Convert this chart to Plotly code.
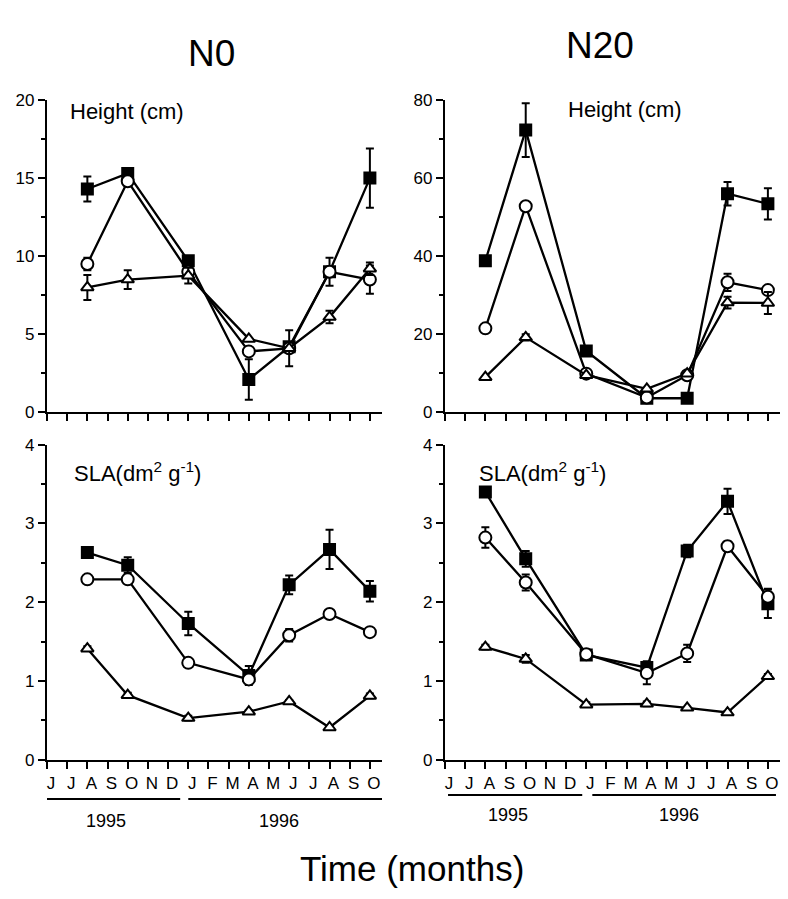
import plotly.graph_objects as go

# ---------------- data ----------------
months = ["J", "J", "A", "S", "O", "N", "D", "J", "F", "M", "A", "M", "J", "J", "A", "S", "O"]
month_pos = list(range(len(months)))          # Jun 1995 ... Oct 1996
sample_pos = [2, 4, 7, 10, 12, 14, 16]        # Aug95, Oct95, Jan96, Apr96, Jun96, Aug96, Oct96
years = ["1995", "1996"]

# Height (cm), N0
h_n0_sq = [14.3, 15.3, 9.7, 2.1, 4.2, 9.0, 15.0]
h_n0_sq_err = [0.8, 0.2, 0.3, 1.3, 0.0, 0.0, 1.9]
h_n0_ci = [9.5, 14.8, 9.0, 3.9, 4.1, 9.0, 8.5]
h_n0_ci_err = [0.4, 0.3, 0.0, 0.0, 0.0, 0.9, 0.9]
h_n0_tr = [8.0, 8.5, 8.75, 4.7, 4.1, 6.1, 9.2]
h_n0_tr_err = [0.8, 0.6, 0.5, 0.0, 1.15, 0.4, 0.4]

# Height (cm), N20
h_n20_sq = [38.8, 72.3, 15.7, 3.6, 3.6, 56.0, 53.4]
h_n20_sq_err = [0.0, 6.9, 0.0, 0.0, 0.0, 3.0, 4.0]
h_n20_ci = [21.5, 52.8, 9.9, 3.8, 9.5, 33.3, 31.3]
h_n20_ci_err = [0.0, 0.0, 0.0, 0.0, 0.0, 2.2, 0.0]
h_n20_tr = [9.0, 19.2, 9.5, 6.0, 9.9, 28.1, 28.0]
h_n20_tr_err = [0.0, 0.8, 0.0, 0.0, 0.0, 1.5, 2.8]

# SLA (dm2 g-1), N0
s_n0_sq = [2.63, 2.47, 1.73, 1.07, 2.22, 2.67, 2.14]
s_n0_sq_err = [0.0, 0.1, 0.15, 0.12, 0.12, 0.25, 0.13]
s_n0_ci = [2.29, 2.29, 1.23, 1.02, 1.58, 1.85, 1.62]
s_n0_ci_err = [0.0, 0.05, 0.0, 0.0, 0.08, 0.04, 0.0]
s_n0_tr = [1.41, 0.82, 0.53, 0.61, 0.74, 0.41, 0.81]
s_n0_tr_err = [0.03, 0.03, 0.03, 0.02, 0.02, 0.02, 0.03]

# SLA (dm2 g-1), N20
s_n20_sq = [3.40, 2.55, 1.33, 1.17, 2.65, 3.28, 1.98]
s_n20_sq_err = [0.03, 0.1, 0.0, 0.08, 0.08, 0.16, 0.18]
s_n20_ci = [2.82, 2.25, 1.34, 1.10, 1.35, 2.71, 2.07]
s_n20_ci_err = [0.13, 0.1, 0.0, 0.14, 0.11, 0.06, 0.1]
s_n20_tr = [1.43, 1.28, 0.70, 0.71, 0.66, 0.60, 1.06]
s_n20_tr_err = [0.03, 0.05, 0.03, 0.03, 0.0, 0.02, 0.03]

# ---------------- figure ----------------
W, H = 788, 899
FONT = "Liberation Sans, Arial, Helvetica, sans-serif"


def py(p):
    return 1 - p / H


fig = go.Figure()

panels = [
    ("x", "y", h_n0_sq, h_n0_sq_err, h_n0_ci, h_n0_ci_err, h_n0_tr, h_n0_tr_err),
    ("x2", "y2", h_n20_sq, h_n20_sq_err, h_n20_ci, h_n20_ci_err, h_n20_tr, h_n20_tr_err),
    ("x3", "y3", s_n0_sq, s_n0_sq_err, s_n0_ci, s_n0_ci_err, s_n0_tr, s_n0_tr_err),
    ("x4", "y4", s_n20_sq, s_n20_sq_err, s_n20_ci, s_n20_ci_err, s_n20_tr, s_n20_tr_err),
]

for xa, ya, sq, sqe, ci, cie, tr, tre in panels:
    for vals, errs, sym, fill, size in [
        (sq, sqe, "square", "black", 11),
        (ci, cie, "circle", "white", 12),
        (tr, tre, "triangle-up", "white", 11),
    ]:
        fig.add_trace(go.Scatter(
            x=sample_pos, y=vals, xaxis=xa, yaxis=ya,
            mode="lines+markers",
            line=dict(color="black", width=2.3),
            marker=dict(symbol=sym, size=size, color=fill,
                        line=dict(color="black", width=2)),
            error_y=dict(type="data", array=errs, visible=True,
                         color="black", thickness=2, width=4),
            cliponaxis=False, showlegend=False,
        ))

xdom_l = [47 / W, 382 / W]
xdom_r = [445 / W, 780 / W]
ydom_top = [py(412), py(93)]
ydom_bot = [py(767), py(445)]

xcommon = dict(range=[0, 16.6], tickvals=month_pos, ticks="outside", ticklen=7,
               tickwidth=2, tickcolor="black", showline=True, linecolor="black",
               linewidth=2.3, showgrid=False, zeroline=False,
               tickfont=dict(family=FONT, size=17, color="black"))
ycommon = dict(ticks="outside", ticklen=7, tickwidth=2, tickcolor="black",
               showline=True, linecolor="black", linewidth=2.3, showgrid=False,
               zeroline=False, tickfont=dict(family=FONT, size=17, color="black"))


def minor(vals):
    return dict(tickvals=vals, ticks="outside", ticklen=4, tickwidth=2, tickcolor="black")


fig.update_layout(
    width=W, height=H, margin=dict(l=0, r=0, t=0, b=0),
    paper_bgcolor="white", plot_bgcolor="white",
    font=dict(family=FONT, color="black"),
    xaxis=dict(domain=xdom_l, anchor="y", showticklabels=False, **xcommon),
    xaxis2=dict(domain=xdom_r, anchor="y2", showticklabels=False, **xcommon),
    xaxis3=dict(domain=xdom_l, anchor="y3", ticktext=months, ticklabelshift=4, **xcommon),
    xaxis4=dict(domain=xdom_r, anchor="y4", ticktext=months, ticklabelshift=4, **xcommon),
    yaxis=dict(domain=ydom_top, anchor="x", range=[0, 20], tickvals=[0, 5, 10, 15, 20],
               minor=minor([2.5, 7.5, 12.5, 17.5]), **ycommon),
    yaxis2=dict(domain=ydom_top, anchor="x2", range=[0, 80], tickvals=[0, 20, 40, 60, 80],
                minor=minor([10, 30, 50, 70]), **ycommon),
    yaxis3=dict(domain=ydom_bot, anchor="x3", range=[0, 4], tickvals=[0, 1, 2, 3, 4],
                minor=minor([0.5, 1.5, 2.5, 3.5]), **ycommon),
    yaxis4=dict(domain=ydom_bot, anchor="x4", range=[0, 4], tickvals=[0, 1, 2, 3, 4],
                minor=minor([0.5, 1.5, 2.5, 3.5]), **ycommon),
)

ann = []


def add_text(text, x, y, size, xref="paper", xanchor="center"):
    ann.append(dict(text=text, x=x, y=py(y), xref=xref, yref="paper",
                    xanchor=xanchor, yanchor="middle", showarrow=False,
                    font=dict(family=FONT, size=size, color="black")))


# Column titles
add_text("N0", 212 / W, 45, 37)
add_text("N20", 600 / W, 37, 37)
# Panel labels
add_text("Height (cm)", 68 / W, 105, 22, xanchor="left")
add_text("Height (cm)", 566 / W, 103, 22, xanchor="left")
add_text("SLA(dm<sup>2</sup> g<sup>-1</sup>)", 72 / W, 473, 22, xanchor="left")
add_text("SLA(dm<sup>2</sup> g<sup>-1</sup>)", 477 / W, 473, 22, xanchor="left")
# Year labels (positions in month units of the lower axes)
for xr, xs, ypx in [("x3", [2.9, 11.5], 830), ("x4", [3.1, 11.6], 823)]:
    for yr, xv in zip(years, xs):
        add_text(yr, xv, ypx, 18, xref=xr)
# Axis title
add_text("Time (months)", 412 / W, 878, 35)
fig.update_layout(annotations=ann)

# Year underlines (in month units along the lower x axes)
shapes = []
for xr, segs, ypx in [("x3", [(-0.2, 6.6), (7.0, 16.6)], 807),
                      ("x4", [(0.15, 6.8), (7.3, 16.4)], 803)]:
    for a, b in segs:
        shapes.append(dict(type="line", xref=xr, yref="paper", x0=a, x1=b,
                           y0=py(ypx), y1=py(ypx), line=dict(color="black", width=2)))
fig.update_layout(shapes=shapes)

fig.write_html("out.html")
